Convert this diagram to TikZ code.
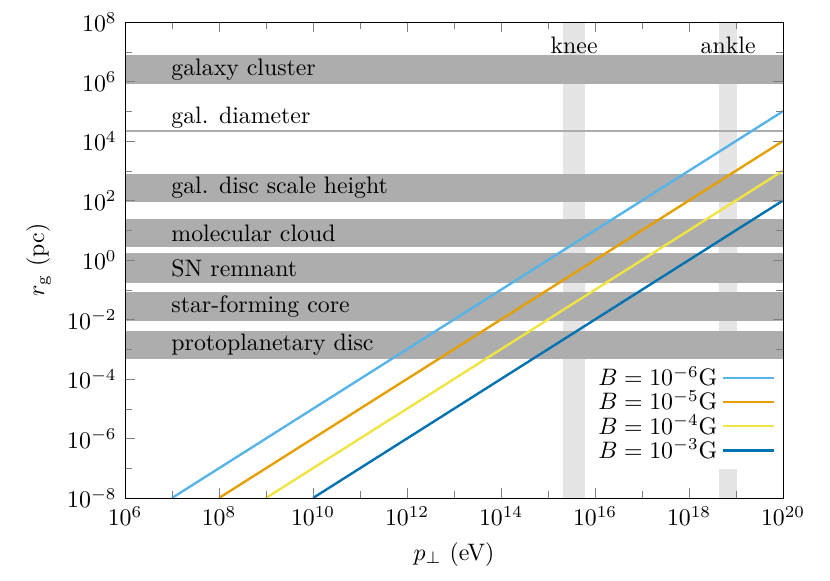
\documentclass[tikz,border=0pt]{standalone}
\usepackage{amsmath}
\usepackage{tikz}
\usepackage{pgfplots}
\pgfplotsset{compat=1.18}
\usetikzlibrary{calc}
\definecolor{skyblue}{RGB}{86,180,233}
\definecolor{orangeOI}{RGB}{230,159,0}
\definecolor{yellowOI}{RGB}{240,228,66}
\definecolor{blueOI}{RGB}{0,114,178}
\tikzset{
  band/.style={fill=black!32},
  crband/.style={fill=black!10},
  bandlabel/.style={anchor=west,inner sep=0pt},
  rgline/.style={line width=1pt},
}
\begin{document}
\begin{tikzpicture}[x=0.42pt,y=0.42pt]
      \useasboundingbox (0,0) rectangle (830,581);
      \begin{axis}[
          at={(125*0.42pt,83*0.42pt)}, anchor=south west,
          scale only axis, width=658*0.42pt, height=476*0.42pt,
          xmode=log, ymode=log,
          xmin=1e6, xmax=1e20, ymin=1e-8, ymax=1e8,
          xtick={1e6,1e8,1e10,1e12,1e14,1e16,1e18,1e20},
          minor xtick={1e7,1e9,1e11,1e13,1e15,1e17,1e19},
          ytick={1e-8,1e-6,1e-4,1e-2,1,1e2,1e4,1e6,1e8},
          minor ytick={1e-7,1e-5,1e-3,1e-1,1e1,1e3,1e5,1e7},
          tick align=inside, axis on top,
          xlabel={$p_\perp$ (eV)}, ylabel={$r_\mathrm{g}$ (pc)},
          legend style={at={(1,0.06)},anchor=south east,draw=none,fill=white,
            row sep=-3.5pt, inner ysep=1pt},
          legend image code/.code={\draw[#1] (0cm,0cm) -- (0.75cm,0cm);},
          legend cell align=right, legend plot pos=right,
        ]
        % cosmic-ray features
        \fill [crband] (axis cs:2.1e15,1e-8) rectangle (axis cs:6.2e15,1e8);
        \fill [crband] (axis cs:4.4e18,1e-8) rectangle (axis cs:1.05e19,1e8);
        \node [anchor=center] at (axis cs:3.6e15,1.7e7) {knee};
        \node [anchor=center] at (axis cs:6.8e18,1.7e7) {ankle};

        % size scales
        \fill [band] (axis cs:1e6,8.3e5) rectangle (axis cs:1e20,7.76e6);
        \fill [band] (axis cs:1e6,2.0e4) rectangle (axis cs:1e20,2.4e4);
        \fill [band] (axis cs:1e6,89) rectangle (axis cs:1e20,776);
        \fill [band] (axis cs:1e6,2.75) rectangle (axis cs:1e20,24);
        \fill [band] (axis cs:1e6,0.17) rectangle (axis cs:1e20,1.74);
        \fill [band] (axis cs:1e6,8.9e-3) rectangle (axis cs:1e20,8.5e-2);
        \fill [band] (axis cs:1e6,4.7e-4) rectangle (axis cs:1e20,4.1e-3);

        \node [bandlabel] at (axis cs:9.5e6,2.5e6) {galaxy cluster};
        \node [bandlabel] at (axis cs:9.5e6,6.2e4) {gal. diameter};
        \node [bandlabel] at (axis cs:9.5e6,2.6e2) {gal. disc scale height};
        \node [bandlabel] at (axis cs:9.5e6,8.1) {molecular cloud};
        \node [bandlabel] at (axis cs:9.5e6,0.54) {SN remnant};
        \node [bandlabel] at (axis cs:9.5e6,2.7e-2) {star-forming core};
        \node [bandlabel] at (axis cs:9.5e6,1.4e-3) {protoplanetary disc};

        \addplot [rgline,skyblue,domain=1e7:1e20,samples=2] {x*1e-15};
        \addlegendentry{$B=10^{-6}$G}
        \addplot [rgline,orangeOI,domain=1e8:1e20,samples=2] {x*1e-16};
        \addlegendentry{$B=10^{-5}$G}
        \addplot [rgline,yellowOI,domain=1e9:1e20,samples=2] {x*1e-17};
        \addlegendentry{$B=10^{-4}$G}
        \addplot [rgline,blueOI,domain=1e10:1e20,samples=2] {x*1e-18};
        \addlegendentry{$B=10^{-3}$G}
      \end{axis}
    \end{tikzpicture}
\end{document}
